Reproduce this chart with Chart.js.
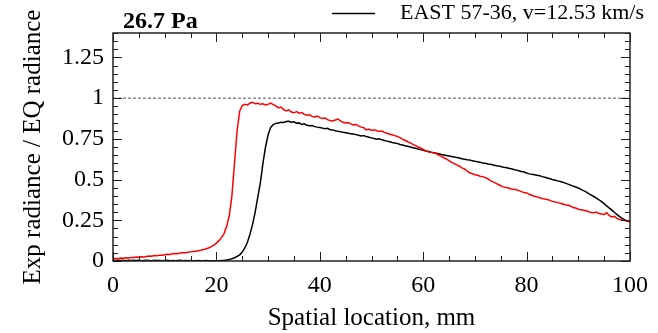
<!DOCTYPE html>
<html>
<head>
<meta charset="utf-8">
<script src="https://cdn.jsdelivr.net/npm/chart.js@4/dist/chart.umd.min.js"></script>
<style>
  html, body { margin: 0; padding: 0; background: #fff; }
  #wrap { width: 658px; height: 333px; }
</style>
</head>
<body>
<div id="wrap"><canvas id="radChart"></canvas></div>
<script>
// radiance ratio profiles, sampled every 0.5 mm from 0 to 100 mm
const stepMm = 0.5;

const redRatio = [
  0.015,0.016,0.014,0.018,0.017,0.020,0.019,0.022,0.021,0.024, 0.023,0.026,0.025,0.028,0.030,0.029,0.033,0.032,0.036,0.035,
  0.039,0.041,0.040,0.044,0.046,0.045,0.049,0.051,0.050,0.054, 0.056,0.058,0.060,0.063,0.066,0.070,0.075,0.080,0.088,0.098,
  0.110,0.125,0.145,0.170,0.215,0.280,0.400,0.600,0.800,0.920, 0.955,0.962,0.958,0.970,0.975,0.966,0.968,0.962,0.965,0.958,
  0.962,0.970,0.960,0.952,0.940,0.945,0.930,0.922,0.928,0.915, 0.910,0.918,0.908,0.912,0.900,0.895,0.898,0.888,0.885,0.890,
  0.880,0.875,0.878,0.868,0.862,0.860,0.866,0.872,0.860,0.852, 0.848,0.850,0.842,0.835,0.838,0.830,0.822,0.818,0.805,0.810,
  0.802,0.806,0.800,0.795,0.798,0.790,0.784,0.778,0.775,0.770, 0.765,0.758,0.748,0.740,0.732,0.725,0.716,0.708,0.700,0.694,
  0.685,0.676,0.670,0.668,0.664,0.660,0.650,0.642,0.634,0.625, 0.616,0.606,0.598,0.590,0.582,0.572,0.565,0.552,0.542,0.536,
  0.530,0.526,0.520,0.518,0.512,0.505,0.494,0.486,0.478,0.470, 0.462,0.455,0.452,0.448,0.442,0.440,0.438,0.432,0.426,0.420,
  0.418,0.410,0.404,0.398,0.395,0.388,0.384,0.380,0.378,0.372, 0.366,0.362,0.360,0.354,0.350,0.345,0.342,0.338,0.328,0.325,
  0.318,0.314,0.312,0.308,0.302,0.298,0.296,0.300,0.292,0.288, 0.286,0.296,0.278,0.270,0.274,0.262,0.255,0.252,0.248,0.244,
  0.240
];

const eastRatio = [
  0.004,0.003,0.005,0.003,0.004,0.002,0.004,0.003,0.005,0.003, 0.004,0.002,0.003,0.004,0.003,0.002,0.004,0.003,0.003,0.002,
  0.003,0.004,0.002,0.003,0.002,0.003,0.004,0.002,0.003,0.002, 0.003,0.002,0.002,0.003,0.002,0.002,0.003,0.002,0.002,0.002,
  0.002,0.002,0.003,0.004,0.006,0.010,0.014,0.020,0.028,0.038, 0.055,0.080,0.115,0.165,0.225,0.300,0.390,0.480,0.600,0.700,
  0.775,0.820,0.838,0.845,0.848,0.852,0.850,0.856,0.858,0.852, 0.855,0.846,0.848,0.838,0.842,0.834,0.830,0.832,0.825,0.822,
  0.820,0.816,0.812,0.815,0.806,0.805,0.800,0.796,0.794,0.790, 0.788,0.784,0.782,0.780,0.776,0.772,0.768,0.770,0.764,0.760,
  0.756,0.752,0.748,0.750,0.744,0.740,0.736,0.732,0.728,0.725, 0.722,0.715,0.712,0.708,0.704,0.700,0.696,0.692,0.688,0.684,
  0.680,0.676,0.672,0.668,0.665,0.662,0.658,0.654,0.651,0.648, 0.645,0.642,0.638,0.636,0.632,0.628,0.625,0.622,0.620,0.615,
  0.612,0.610,0.606,0.602,0.600,0.596,0.594,0.590,0.586,0.584, 0.580,0.576,0.574,0.570,0.566,0.562,0.558,0.554,0.550,0.546,
  0.540,0.535,0.532,0.530,0.526,0.524,0.518,0.514,0.510,0.505, 0.500,0.496,0.492,0.488,0.484,0.478,0.472,0.466,0.460,0.454,
  0.448,0.440,0.432,0.424,0.414,0.405,0.396,0.386,0.376,0.364, 0.352,0.338,0.325,0.312,0.298,0.285,0.272,0.262,0.252,0.246,
  0.242
];

const refLineX = [0, 100];
const refLineY = [1, 1];

const xTicks = [0, 20, 40, 60, 80, 100];
const yTicks = [0, 0.25, 0.5, 0.75, 1, 1.25];
const yTickLabels = ['0', '0.25', '0.5', '0.75', '1', '1.25'];

const pressureLabel = '26.7 Pa';
const eastLabel = 'EAST 57-36, v=12.53 km/s';

const serif = '"Liberation Serif", "Times New Roman", serif';

function toPoints(values) {
  return values.map(function(v, i) { return { x: i * stepMm, y: v }; });
}

// inward major/minor ticks on all four sides plus the frame
const frameTicks = {
  id: 'frameTicks',
  afterDatasetsDraw(chart) {
    const ctx = chart.ctx;
    const a = chart.chartArea;
    const xs = chart.scales.x, ys = chart.scales.y;
    ctx.save();
    ctx.strokeStyle = '#222';
    ctx.lineWidth = 1;
    ctx.beginPath();
    for (let k = 0; k <= 20; k++) {
      const v = k * 5;
      const px = Math.round(xs.getPixelForValue(v)) + 0.5;
      const len = (v % 20 === 0) ? 9 : 5;
      ctx.moveTo(px, a.bottom); ctx.lineTo(px, a.bottom - len);
      ctx.moveTo(px, a.top); ctx.lineTo(px, a.top + len);
    }
    for (let k = 0; k <= 28; k++) {
      const py = Math.round(ys.getPixelForValue(k * 0.05)) + 0.5;
      const len = (k % 5 === 0) ? 9 : 5;
      ctx.moveTo(a.left, py); ctx.lineTo(a.left + len, py);
      ctx.moveTo(a.right, py); ctx.lineTo(a.right - len, py);
    }
    ctx.stroke();
    ctx.lineWidth = 1.5;
    ctx.strokeRect(a.left, a.top, a.right - a.left, a.bottom - a.top);
    ctx.restore();
  }
};

// pressure label and single-entry legend above the plot
const headerText = {
  id: 'headerText',
  afterDraw(chart) {
    const ctx = chart.ctx;
    ctx.save();
    ctx.fillStyle = '#000';
    ctx.textBaseline = 'alphabetic';
    ctx.font = 'bold 24px ' + serif;
    ctx.fillText(pressureLabel, 123, 28);
    ctx.strokeStyle = '#000';
    ctx.lineWidth = 1.5;
    ctx.beginPath();
    ctx.moveTo(332, 13.5);
    ctx.lineTo(375, 13.5);
    ctx.stroke();
    ctx.font = '22px ' + serif;
    ctx.fillText(eastLabel, 400, 19);
    ctx.restore();
  }
};

new Chart(document.getElementById('radChart'), {
  type: 'line',
  data: {
    datasets: [
      {
        label: 'ref',
        data: refLineX.map(function(x, i) { return { x: x, y: refLineY[i] }; }),
        borderColor: '#555',
        borderWidth: 1,
        borderDash: [3, 2],
        pointRadius: 0
      },
      {
        label: 'red',
        data: toPoints(redRatio),
        borderColor: '#ff0000',
        borderWidth: 1.5,
        pointRadius: 0,
        tension: 0
      },
      {
        label: eastLabel,
        data: toPoints(eastRatio),
        borderColor: '#000',
        borderWidth: 1.5,
        pointRadius: 0,
        tension: 0
      }
    ]
  },
  options: {
    responsive: true,
    maintainAspectRatio: false,
    animation: false,
    layout: { padding: { left: 0, top: 33, right: 28, bottom: 0 } },
    plugins: {
      legend: { display: false },
      tooltip: { enabled: false }
    },
    scales: {
      x: {
        type: 'linear',
        min: 0,
        max: 100,
        afterFit: function(s) { s.height = 72; },
        afterBuildTicks: function(s) { s.ticks = xTicks.map(function(v) { return { value: v }; }); },
        grid: { display: false, drawTicks: false },
        border: { display: false },
        ticks: {
          color: '#000',
          padding: 10,
          maxRotation: 0,
          font: { family: serif, size: 24 }
        },
        title: {
          display: true,
          text: 'Spatial location, mm',
          color: '#000',
          font: { family: serif, size: 25 },
          padding: { top: 0, bottom: 0 }
        }
      },
      y: {
        type: 'linear',
        min: 0,
        max: 1.4,
        afterFit: function(s) { s.width = 113; },
        afterBuildTicks: function(s) { s.ticks = yTicks.map(function(v) { return { value: v }; }); },
        grid: { display: false, drawTicks: false },
        border: { display: false },
        ticks: {
          color: '#000',
          padding: 9,
          font: { family: serif, size: 24 },
          callback: function(v, i) { return yTickLabels[i]; }
        },
        title: {
          display: true,
          text: 'Exp radiance / EQ radiance',
          color: '#000',
          font: { family: serif, size: 25 },
          padding: { top: 18, bottom: 0 }
        }
      }
    }
  },
  plugins: [frameTicks, headerText]
});
</script>
</body>
</html>
